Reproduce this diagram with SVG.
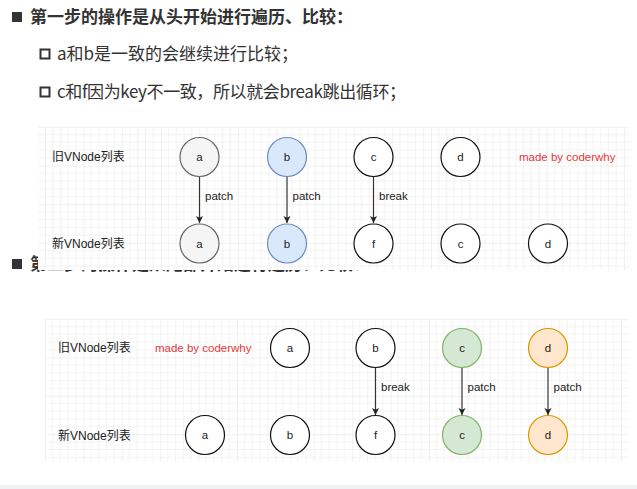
<svg xmlns="http://www.w3.org/2000/svg" width="637" height="489" viewBox="0 0 637 489">
<style>
.h{font-family:"Noto Sans CJK SC","Noto Sans",sans-serif;font-size:17px;font-weight:bold;fill:#333}
.s{font-family:"Noto Sans CJK SC","Noto Sans",sans-serif;font-size:17px;fill:#333}
.lbl{font-family:"Liberation Sans","Noto Sans CJK SC",sans-serif;font-size:12px;fill:#222}
.red{font-family:"Liberation Sans",Arial,sans-serif;font-size:11.5px;fill:#e5383b}
.t{font-family:"Liberation Sans",Arial,sans-serif;font-size:11.5px;fill:#222;text-anchor:middle;dominant-baseline:central}
.el{font-family:"Liberation Sans",Arial,sans-serif;font-size:11.5px;fill:#222}
.w{fill:#fff;stroke:#111;stroke-width:1.2}
.g{fill:#f5f5f5;stroke:#666;stroke-width:1.2}
.b{fill:#dae8fc;stroke:#6c8ebf;stroke-width:1.2}
.gr{fill:#d5e8d4;stroke:#82b366;stroke-width:1.2}
.o{fill:#ffe6cc;stroke:#d79b00;stroke-width:1.2}
.e{stroke:#333;stroke-width:1.2;fill:none;marker-end:url(#ah)}
</style>
<defs>
<pattern id="grid1" patternUnits="userSpaceOnUse" x="45" y="127" width="38.6" height="38.6">
<rect width="38.6" height="38.6" fill="#fff"/>
<path d="M7.72 0V38.6M15.44 0V38.6M23.16 0V38.6M30.88 0V38.6M0 7.72H38.6M0 15.44H38.6M0 23.16H38.6M0 30.88H38.6" stroke="#f3f3f3" stroke-width="1"/>
<path d="M0 0H38.6M0 0V38.6" stroke="#e4e4e4" stroke-width="1"/>
</pattern>
<pattern id="grid2" patternUnits="userSpaceOnUse" x="45" y="319" width="38.4" height="38.4">
<rect width="38.4" height="38.4" fill="#fff"/>
<path d="M7.68 0V38.4M15.36 0V38.4M23.04 0V38.4M30.72 0V38.4M0 7.68H38.4M0 15.36H38.4M0 23.04H38.4M0 30.72H38.4" stroke="#f3f3f3" stroke-width="1"/>
<path d="M0 0H38.4M0 0V38.4" stroke="#e4e4e4" stroke-width="1"/>
</pattern>
<marker id="ah" markerWidth="8" markerHeight="8" refX="7" refY="4" orient="auto" markerUnits="userSpaceOnUse">
<path d="M0 0.5L7 4L0 7.5L1.8 4Z" fill="#222"/>
</marker>
</defs>
<rect width="637" height="489" fill="#fff"/>
<rect x="0" y="485" width="637" height="4" fill="#eff0f2"/>

<g id="heading1">
<rect x="12" y="12" width="10" height="10" fill="#333"/>
<text class="h" x="30" y="23">第一步的操作是从头开始进行遍历、比较：</text>
</g>
<g id="item1">
<rect x="40.5" y="49.5" width="9" height="9" fill="none" stroke="#333" stroke-width="2"/>
<text class="s" x="57" y="60">a和b是一致的会继续进行比较；</text>
</g>
<g id="item2">
<rect x="40.5" y="87.5" width="9" height="9" fill="none" stroke="#333" stroke-width="2"/>
<text class="s" x="57" y="98" textLength="349" lengthAdjust="spacing">c和f因为key不一致，所以就会break跳出循环；</text>
</g>
<g id="heading2">
<rect x="12" y="259" width="10" height="10" fill="#333"/>
<text class="h" x="30" y="270">第二步的操作是从尾部开始进行遍历、比较：</text>
</g>

<g id="diagram1">
<rect x="38" y="127" width="592" height="143" fill="url(#grid1)"/>
<text class="lbl" x="52" y="161">旧VNode列表</text>
<text class="lbl" x="52" y="248">新VNode列表</text>
<text class="red" x="519" y="161">made by coderwhy</text>
<g id="d1-connectors">
<line class="e" x1="199.5" y1="177" x2="199.5" y2="223"/>
<line class="e" x1="287" y1="177" x2="287" y2="223"/>
<line class="e" x1="373.5" y1="177" x2="373.5" y2="223"/>
<text class="el" x="205" y="200">patch</text>
<text class="el" x="292.5" y="200">patch</text>
<text class="el" x="379" y="200">break</text>
</g>
<g id="d1-old-a"><circle class="g" cx="199.5" cy="157" r="19.5"/><text class="t" x="199.5" y="157">a</text></g>
<g id="d1-old-b"><circle class="b" cx="287" cy="157" r="19.5"/><text class="t" x="287" y="157">b</text></g>
<g id="d1-old-c"><circle class="w" cx="373.5" cy="157" r="19.5"/><text class="t" x="373.5" y="157">c</text></g>
<g id="d1-old-d"><circle class="w" cx="460.5" cy="157" r="19.5"/><text class="t" x="460.5" y="157">d</text></g>
<g id="d1-new-a"><circle class="g" cx="199.5" cy="243.5" r="19.5"/><text class="t" x="199.5" y="243.5">a</text></g>
<g id="d1-new-b"><circle class="b" cx="287" cy="243.5" r="19.5"/><text class="t" x="287" y="243.5">b</text></g>
<g id="d1-new-f"><circle class="w" cx="373.5" cy="243.5" r="19.5"/><text class="t" x="373.5" y="243.5">f</text></g>
<g id="d1-new-c"><circle class="w" cx="460.5" cy="243.5" r="19.5"/><text class="t" x="460.5" y="243.5">c</text></g>
<g id="d1-new-d"><circle class="w" cx="548" cy="243.5" r="19.5"/><text class="t" x="548" y="243.5">d</text></g>
</g>

<g id="diagram2">
<rect x="45" y="319" width="583" height="143" fill="url(#grid2)"/>
<text class="lbl" x="58" y="352">旧VNode列表</text>
<text class="lbl" x="58" y="440">新VNode列表</text>
<text class="red" x="155" y="352">made by coderwhy</text>
<g id="d2-connectors">
<line class="e" x1="375.5" y1="368" x2="375.5" y2="415"/>
<line class="e" x1="462" y1="368" x2="462" y2="415"/>
<line class="e" x1="548" y1="368" x2="548" y2="415"/>
<text class="el" x="381" y="391">break</text>
<text class="el" x="467.5" y="391">patch</text>
<text class="el" x="553.5" y="391">patch</text>
</g>
<g id="d2-old-a"><circle class="w" cx="290" cy="348" r="19.5"/><text class="t" x="290" y="348">a</text></g>
<g id="d2-old-b"><circle class="w" cx="375.5" cy="348" r="19.5"/><text class="t" x="375.5" y="348">b</text></g>
<g id="d2-old-c"><circle class="gr" cx="462" cy="348" r="19.5"/><text class="t" x="462" y="348">c</text></g>
<g id="d2-old-d"><circle class="o" cx="548" cy="348" r="19.5"/><text class="t" x="548" y="348">d</text></g>
<g id="d2-new-a"><circle class="w" cx="205" cy="435" r="19.5"/><text class="t" x="205" y="435">a</text></g>
<g id="d2-new-b"><circle class="w" cx="290" cy="435" r="19.5"/><text class="t" x="290" y="435">b</text></g>
<g id="d2-new-f"><circle class="w" cx="375.5" cy="435" r="19.5"/><text class="t" x="375.5" y="435">f</text></g>
<g id="d2-new-c"><circle class="gr" cx="462" cy="435" r="19.5"/><text class="t" x="462" y="435">c</text></g>
<g id="d2-new-d"><circle class="o" cx="548" cy="435" r="19.5"/><text class="t" x="548" y="435">d</text></g>
</g>
</svg>
